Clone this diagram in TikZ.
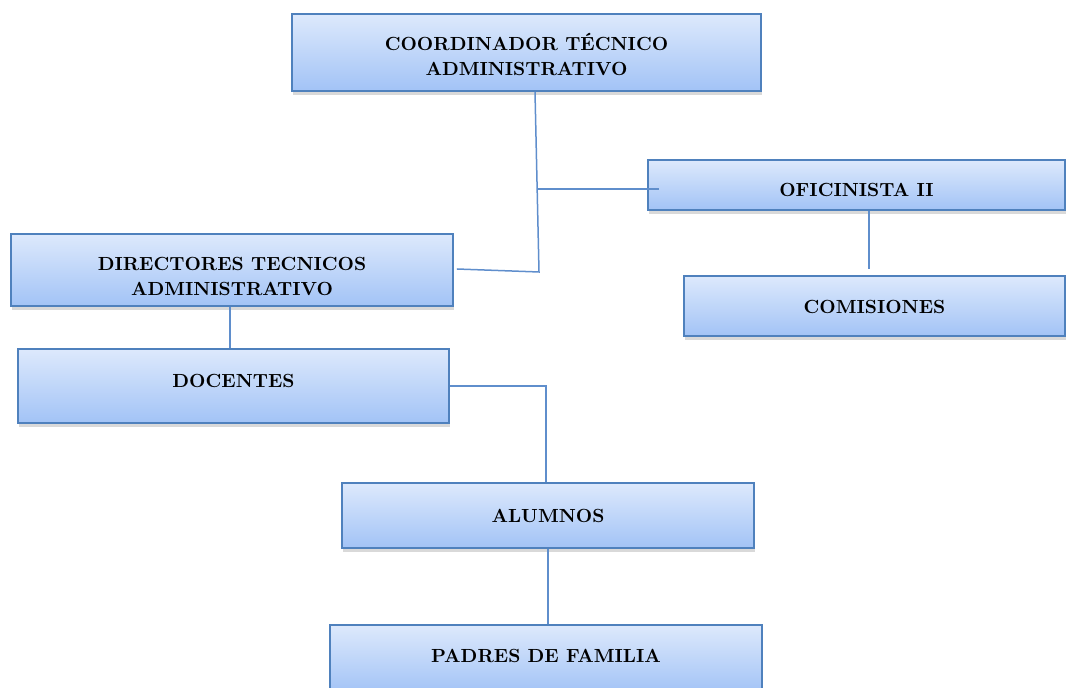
\documentclass[tikz,border=0pt]{standalone}
\usepackage{tikz}
\usetikzlibrary{positioning, shadows}
\usetikzlibrary{calc}
\definecolor{borde}{RGB}{79,129,189}
\definecolor{linea}{RGB}{95,142,204}
\definecolor{claro}{RGB}{221,233,252}
\definecolor{oscuro}{RGB}{162,195,246}
\tikzset{
x=0.5pt, y=-0.5pt, % coordinates in pixels of the sheet
cargo/.style={draw=borde, line width=0.8pt, top color=claro, bottom color=oscuro, font=\bfseries\fontsize{9.5}{12.5}\selectfont, align=center, inner sep=0pt, drop shadow={shadow xshift=0.5pt, shadow yshift=-2pt, opacity=0.3}}, % every box of the chart
enlace/.style={draw=linea, line width=0.75pt}, % the thin joining lines
}
\begin{document}
\begin{tikzpicture}
    \clip (0,0) rectangle (1066,688);
    \node[cargo, minimum width=234.5pt, minimum height=38.5pt, text height=23.5pt, text depth=0pt] (coord) at (526.5,52.5) {COORDINADOR TÉCNICO\\ADMINISTRATIVO};
    \node[cargo, minimum width=208.5pt, minimum height=25pt, text height=11.5pt, text depth=0pt] (ofi) at (856.5,185) {OFICINISTA II};
    \node[cargo, minimum width=190.5pt, minimum height=30pt, text height=7.5pt, text depth=0pt] (com) at (874.5,306) {COMISIONES};
    \node[cargo, minimum width=221pt, minimum height=36pt, text height=26pt, text depth=0pt] (dir) at (232,270) {DIRECTORES TECNICOS\\ADMINISTRATIVO};
    \node[cargo, minimum width=215.5pt, minimum height=37pt, text height=1.5pt, text depth=0pt] (doc) at (233.5,386) {DOCENTES};
    \node[cargo, minimum width=206pt, minimum height=32.5pt] (alu) at (548,515.5) {ALUMNOS};
    \node[cargo, minimum width=216pt, minimum height=34pt, text height=3.5pt, text depth=0pt] (pad) at (546,659) {PADRES DE FAMILIA};
    \coordinate (j0) at (538,189);
    \coordinate (j1) at (539,272);
    \draw[enlace] ([xshift=4.25pt]coord.south) -- (j1) -- ([xshift=1.5pt,yshift=0.5pt]dir.east);
    \draw[enlace] (j0) -- ([xshift=6pt,yshift=-2pt]ofi.west);
    \draw[enlace] ([xshift=6.25pt]ofi.south) -- ([xshift=-2.75pt,yshift=3pt]com.north);
    \draw[enlace] ([xshift=-1pt]dir.south) -- ([xshift=-1.75pt]doc.north);
    \draw[enlace] (doc.east) -| ([xshift=-1pt]alu.north);
    \draw[enlace] (alu.south) -- ([xshift=1pt]pad.north);
\end{tikzpicture}
\end{document}
